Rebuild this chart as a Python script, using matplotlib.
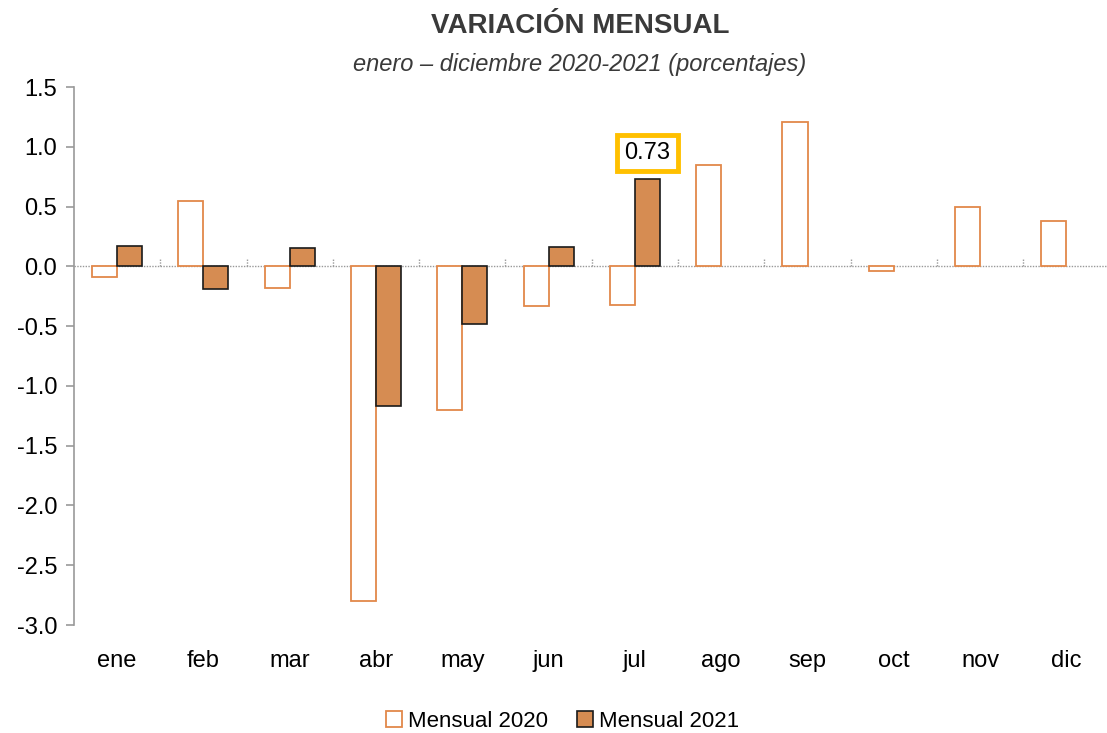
import matplotlib
matplotlib.use("Agg")
import matplotlib.pyplot as plt
import numpy as np
from matplotlib import font_manager

fams = {f.name for f in font_manager.fontManager.ttflist}
base = 'Liberation Sans Narrow' if 'Liberation Sans Narrow' in fams else 'Liberation Sans'
plt.rcParams['font.family'] = [base, 'DejaVu Sans']

months = ["ene", "feb", "mar", "abr", "may", "jun", "jul", "ago", "sep", "oct", "nov", "dic"]
mensual_2020 = [-0.09, 0.55, -0.18, -2.80, -1.20, -0.33, -0.32, 0.85, 1.21, -0.04, 0.50, 0.38]
mensual_2021 = [0.17, -0.19, 0.15, -1.17, -0.48, 0.16, 0.73]
yticks = [1.5, 1.0, 0.5, 0.0, -0.5, -1.0, -1.5, -2.0, -2.5, -3.0]
highlight_label = "0.73"

fig = plt.figure(figsize=(11.07, 7.33), dpi=100)
ax = fig.add_axes([0.0668, 0.1473, 0.9332, 0.734])

x = np.arange(len(months))
w = 0.29
ax.bar(x - w / 2, mensual_2020, width=w, facecolor='white', edgecolor='#E2884A', linewidth=1.3,
       label='Mensual 2020', zorder=3)
x21 = np.arange(len(mensual_2021))
ax.bar(x21 + w / 2, mensual_2021, width=w, facecolor='#D68C52', edgecolor='#1a1a1a', linewidth=1.2,
       label='Mensual 2021', zorder=3)

ax.axhline(0, color='#999999', linestyle=(0, (1, 1)), linewidth=1.0, zorder=2)
for b in np.arange(0.5, len(months) - 0.5, 1.0):
    ax.vlines(b, 0, 0.07, colors='#999999', linestyles=(0, (1, 1)), linewidth=1.0, zorder=2)

ax.set_xlim(-0.5, 11.47)
ax.set_ylim(-3.0, 1.5)
ax.set_yticks(yticks)
ax.set_yticklabels([f"{v:.1f}" for v in yticks])
ax.set_xticks(x)
ax.set_xticklabels(months)
ax.tick_params(axis='x', length=0, pad=18, labelsize=17)
ax.tick_params(axis='y', length=6, color='#999999', width=1.2, labelsize=17, pad=6)
for s in ['top', 'right', 'bottom']:
    ax.spines[s].set_visible(False)
ax.spines['left'].set_color('#999999')
ax.spines['left'].set_linewidth(1.2)

i_hl = 6
ax.annotate(highlight_label, xy=(i_hl + w / 2, 0.95), ha='center', va='center', fontsize=17,
            bbox=dict(boxstyle='square,pad=0.3', facecolor='white', edgecolor='#FFC000', linewidth=3.5),
            zorder=5)

fig.text(0.524, 0.965, "VARIACIÓN MENSUAL", ha='center', va='center', fontsize=20, fontweight='bold',
         color='#3a3a3a')
fig.text(0.524, 0.912, "enero – diciembre 2020-2021 (porcentajes)", ha='center', va='center', fontsize=17,
         style='italic', color='#3a3a3a')

fig.legend(loc='center', bbox_to_anchor=(0.508, 0.016), ncol=2, frameon=False, fontsize=16,
           handlelength=0.75, handleheight=0.75, handletextpad=0.25, columnspacing=1.3)

fig.savefig("out.png", dpi=100)
